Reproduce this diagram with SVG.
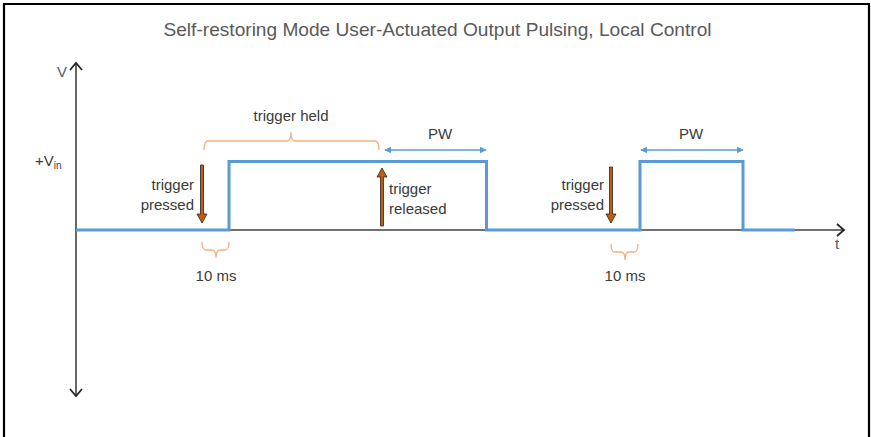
<svg xmlns="http://www.w3.org/2000/svg" width="871" height="437" viewBox="0 0 871 437">
  <defs>
    <style>
      .title { font-family: "Liberation Sans", Arial, sans-serif; font-size: 18.5px; fill: #595959; }
      .lbl { font-family: "Liberation Sans", Arial, sans-serif; font-size: 15px; fill: #3a3a3a; }
      .axis { fill: none; stroke: #404040; stroke-width: 1.6; }
      .chev { fill: none; stroke: #262626; stroke-width: 1.8; stroke-linejoin: miter; }
      .pulse { fill: none; stroke: #5B9BD5; stroke-width: 3; }
      .brace { fill: none; stroke: #F4B183; stroke-width: 1.3; }
      .pw { fill: none; stroke: #5B9BD5; stroke-width: 1.3; }
      .trig { fill: #C55A11; stroke: #262626; stroke-width: 0.8; }
    </style>
    <marker id="pwHead" viewBox="0 0 10 10" refX="9" refY="5" markerWidth="7" markerHeight="7" orient="auto-start-reverse" markerUnits="userSpaceOnUse">
      <path d="M0,0 L10,5 L0,10 Z" fill="#5B9BD5"/>
    </marker>
  </defs>

  <rect width="871" height="437" fill="#ffffff"/>
  <!-- frame -->
  <path d="M4,437 V4 H869 V437" fill="none" stroke="#000000" stroke-width="2.2"/>

  <text class="title" x="437.5" y="36" text-anchor="middle" textLength="548" lengthAdjust="spacingAndGlyphs">Self-restoring Mode User-Actuated Output Pulsing, Local Control</text>

  <!-- axes -->
  <g id="axes">
    <line class="axis" x1="76" y1="63" x2="76" y2="396"/>
    <line class="axis" x1="76" y1="230" x2="844" y2="230"/>
    <path class="chev" d="M70,70 L76,63 L82,70"/>
    <path class="chev" d="M70,389 L76,396 L82,389"/>
    <path class="chev" d="M837,224 L844,230 L837,236"/>
    <text class="lbl" x="57" y="77" style="fill:#595959">V</text>
    <text class="lbl" x="35" y="166">+V<tspan font-size="10" dy="3">in</tspan></text>
    <text class="lbl" x="835" y="249" style="fill:#595959">t</text>
  </g>

  <!-- output signal -->
  <g id="signal">
    <path class="pulse" d="M76,230 H229 V161.5 H486.5 V230 H640 V161.5 H743 V230 H795"/>
  </g>

  <!-- first press -->
  <g id="press1">
    <polygon class="trig" points="200.5,165 203.5,165 203.5,214 207,214 202,223 197,214 200.5,214"/>
    <text class="lbl" x="194" y="190" text-anchor="end">trigger</text>
    <text class="lbl" x="194" y="210" text-anchor="end">pressed</text>
  </g>

  <g id="delay1">
    <path class="brace" d="M202,242 Q202,250 206,250 H212 Q216,250 216,258 Q216,250 220,250 H225 Q229,250 229,242"/>
    <text class="lbl" x="216" y="281" text-anchor="middle">10 ms</text>
  </g>

  <g id="held">
    <path class="brace" d="M204,150 Q204,141 208,141 H287 Q291,141 291,132 Q291,141 295,141 H375 Q379,141 379,150"/>
    <text class="lbl" x="291" y="121" text-anchor="middle">trigger held</text>
  </g>

  <!-- release -->
  <g id="release">
    <polygon class="trig" points="380.5,226 383.5,226 383.5,177 387,177 382,168 377,177 380.5,177"/>
    <text class="lbl" x="389" y="194">trigger</text>
    <text class="lbl" x="389" y="214">released</text>
  </g>

  <g id="pw1">
    <line class="pw" x1="385" y1="150" x2="486" y2="150" marker-start="url(#pwHead)" marker-end="url(#pwHead)"/>
    <text class="lbl" x="440" y="139" text-anchor="middle">PW</text>
  </g>

  <!-- second press -->
  <g id="press2">
    <polygon class="trig" points="609.5,167 612.5,167 612.5,214 616,214 611,223 606,214 609.5,214"/>
    <text class="lbl" x="604" y="190" text-anchor="end">trigger</text>
    <text class="lbl" x="604" y="210" text-anchor="end">pressed</text>
  </g>

  <g id="delay2">
    <path class="brace" d="M611,244 Q611,252 615,252 H621 Q625,252 625,260 Q625,252 629,252 H634 Q638,252 638,244"/>
    <text class="lbl" x="625" y="281" text-anchor="middle">10 ms</text>
  </g>

  <g id="pw2">
    <line class="pw" x1="641" y1="150" x2="743" y2="150" marker-start="url(#pwHead)" marker-end="url(#pwHead)"/>
    <text class="lbl" x="691" y="139" text-anchor="middle">PW</text>
  </g>
</svg>
